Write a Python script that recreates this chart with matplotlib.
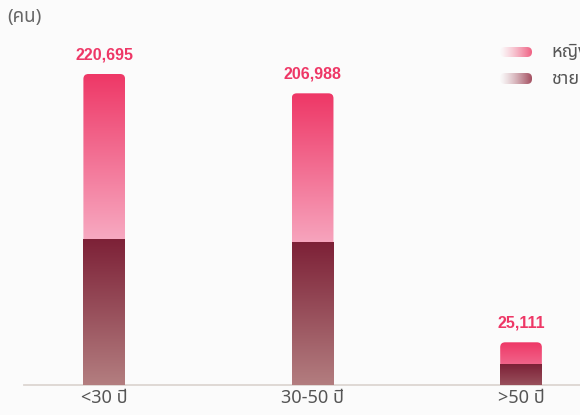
import matplotlib
matplotlib.use('Agg')
import matplotlib.pyplot as plt
import numpy as np
from matplotlib.colors import to_rgb
from matplotlib.patches import FancyBboxPatch

# data
categories = ['<30 ปี', '30-50 ปี', '>50 ปี']
male = [103600, 101300, 14200]
female = [117095, 105688, 16100]
total_labels = ['220,695', '206,988', '25,111']
legend_labels = ['หญิง', 'ชาย']

THAI = ['Noto Sans Thai', 'DejaVu Sans']
F_TOP, F_BOT = '#ee3766', '#f7a9c1'
M_TOP, M_BOT = '#7d2137', '#b37e80'
BG = '#fbfbfb'


def mix(c1, c2, t):
    a = np.array(to_rgb(c1))
    b = np.array(to_rgb(c2))
    return a + (b - a) * t


def vgrad(c_top, c_bot, n=200):
    t = np.linspace(0, 1, n)[:, None]
    a = np.array(to_rgb(c_top))
    b = np.array(to_rgb(c_bot))
    return (a + (b - a) * t)[:, None, :]


W, H = 580, 415
fig = plt.figure(figsize=(W / 100, H / 100), dpi=100, facecolor=BG)
ax = fig.add_axes([24 / W, 30 / H, 556 / W, 385 / H], facecolor=BG)

x = np.arange(len(categories))
xlim = (-0.385, 2.283)
ymax = 385 / 311 * (male[0] + female[0])

x_per_px = (xlim[1] - xlim[0]) / 556
y_per_px = ymax / 385
aspect = y_per_px / x_per_px
bw = 0.2
rad = 5 * x_per_px

for i in range(len(x)):
    x0, x1 = x[i] - bw / 2, x[i] + bw / 2
    tot = male[i] + female[i]
    # female segment, rounded top
    hf = female[i] / y_per_px
    tf = min(1.0, (hf / 165) ** 0.45)
    clip_f = FancyBboxPatch((x0, 0), bw, tot, boxstyle=f'round,pad=0,rounding_size={rad}',
                            mutation_aspect=aspect, facecolor='none', edgecolor='none',
                            transform=ax.transData)
    ax.add_patch(clip_f)
    im = ax.imshow(vgrad(F_TOP, mix(F_TOP, F_BOT, tf)), extent=(x0, x1, male[i], tot),
                   aspect='auto', interpolation='bilinear', zorder=2)
    im.set_clip_path(clip_f)
    # male segment
    hm = male[i] / y_per_px
    tm = min(1.0, (hm / 146) ** 0.35)
    ax.imshow(vgrad(M_TOP, mix(M_TOP, M_BOT, tm)), extent=(x0, x1, 0, male[i]),
              aspect='auto', interpolation='bilinear', zorder=3)
    ax.text(x[i], tot + 19 * y_per_px, total_labels[i], ha='center', va='center',
            color='#ee3766', fontsize=11.5, fontweight='bold', family='Liberation Sans')

ax.set_xlim(*xlim)
ax.set_ylim(0, ymax)

for s in ['top', 'right', 'left']:
    ax.spines[s].set_visible(False)
ax.spines['bottom'].set_color('#dcd6d2')
ax.spines['bottom'].set_linewidth(1.3)
ax.set_yticks([])
ax.set_xticks(x)
ax.set_xticklabels(categories, family=THAI, fontsize=13, color='#555555')
ax.tick_params(axis='x', length=0, pad=3)

fig.text(7 / W, 1 - 17 / H, '(คน)', family=THAI, fontsize=13.5, color='#666666', va='center')

# legend pills
pills = [(47, 57, '#ef5a7e'), (73, 84, '#a0485a')]
for (ytop, ybot, col), lab in zip(pills, legend_labels):
    pax = fig.add_axes([500 / W, (H - ybot) / H, 32 / W, (ybot - ytop) / H])
    pax.set_axis_off()
    pax.set_xlim(0, 1)
    pax.set_ylim(0, 1)
    rgb = np.array(to_rgb(col))
    g = np.zeros((2, 100, 4))
    g[:, :, :3] = rgb
    g[:, :, 3] = np.linspace(0.03, 1, 100) ** 1.3
    clip = FancyBboxPatch((0, 0), 1, 1, boxstyle='round,pad=0,rounding_size=0.155',
                          mutation_aspect=32 / (ybot - ytop), facecolor='none',
                          edgecolor='none', transform=pax.transAxes)
    pax.add_patch(clip)
    pim = pax.imshow(g, extent=(0, 1, 0, 1), aspect='auto', interpolation='bilinear')
    pim.set_clip_path(clip)
    # the reference cuts this text at the right edge as well
    fig.text(551 / W, 1 - ((ytop + ybot) / 2) / H, lab, family=THAI, fontsize=13,
             color='#555555', va='center')

fig.savefig('out.png', dpi=100, facecolor=BG)
